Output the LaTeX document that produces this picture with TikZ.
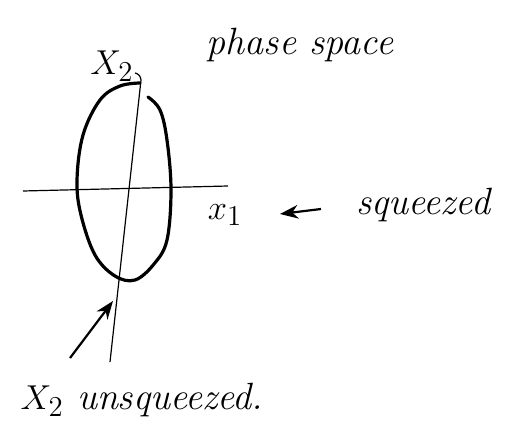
\documentclass[tikz,border=0pt]{standalone}
\usepackage{tikz}
\usetikzlibrary{arrows.meta,positioning}

\begin{document}
\begin{tikzpicture}[
  x=0.5pt,
  y=-0.5pt,
  font=\fontsize{19}{23}\selectfont\itshape,
  label/.style={inner sep=1pt, text=black},
  axis/.style={line width=0.6pt, draw=black},
  contour/.style={line width=1.6pt, draw=black, line cap=round},
  arrow/.style={-{Stealth[length=3.2mm,width=2.4mm]}, line width=1.1pt, draw=black}
]
\useasboundingbox (0,0) rectangle (516,434);

% axes
\coordinate (xleft) at (23,191);
\coordinate (xright) at (228,186);
\coordinate (ybottom) at (110,362);
\coordinate (ytop) at (141,80);
\draw[axis] (xleft) -- (xright);
\draw[axis] (ybottom) -- (ytop) to[out=95,in=-10] (135,73);

% squeezed contour, left open at the top
\draw[contour] plot[smooth, tension=0.6] coordinates {
  (148,97) (160,110) (167,140) (171,190) (167,240) (154,264) (135,280)
  (115,276) (95,255) (81,215) (77,180) (83,135) (100,100) (120,86) (140,83)};

% labels
\node[label] (xtwo) at (112,66) {$X_2$};
\node[label] (title) at (300,45) {phase space};
\node[label] (xone) at (225,215) {$x_1$};
\node[label] (squeezed) at (423,205) {squeezed};
\node[label] (unsq) at (142,400) {$X_2$ unsqueezed.};

\coordinate (sqfrom) at (321,209);
\coordinate (sqto) at (280,214);
\coordinate (tail) at (70,358);
\coordinate (tip) at (113,301);

\draw[arrow] (sqfrom) -- (sqto);
\draw[arrow] (tail) -- (tip);
\end{tikzpicture}
\end{document}
